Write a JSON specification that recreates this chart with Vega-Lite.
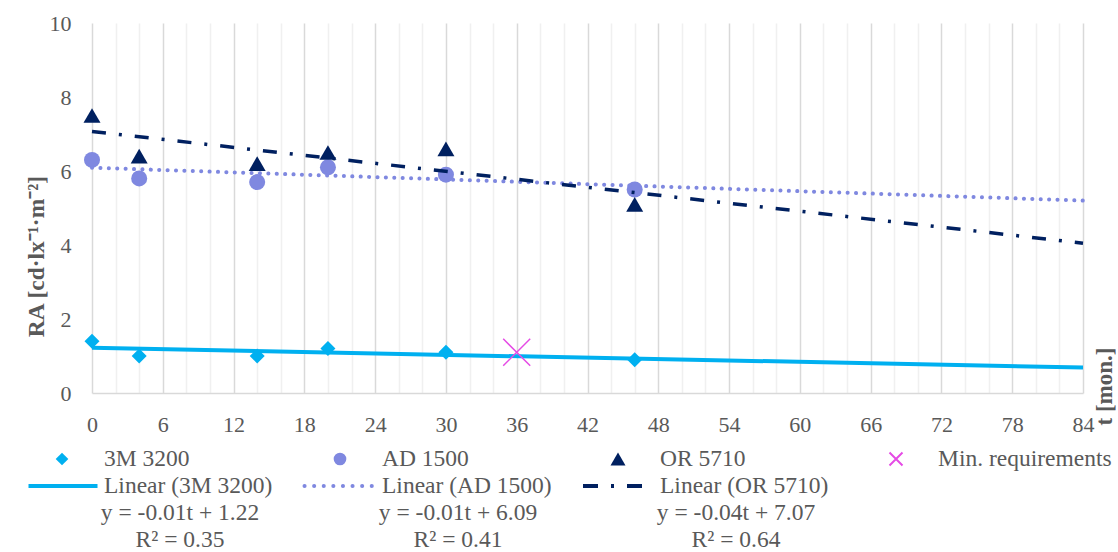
{
  "$schema": "https://vega.github.io/schema/vega-lite/v6.json",
  "background": "white",
  "padding": {"left": 20, "top": 12, "right": 0, "bottom": 0},
  "spacing": 12,
  "config": {
    "view": {"stroke": null},
    "font": "Liberation Serif"
  },
  "datasets": {
    "obs": [
      {"sample": "3M 3200", "t": 0, "RA": 1.4},
      {"sample": "3M 3200", "t": 4, "RA": 1.0},
      {"sample": "3M 3200", "t": 14, "RA": 1.0},
      {"sample": "3M 3200", "t": 20, "RA": 1.2},
      {"sample": "3M 3200", "t": 30, "RA": 1.1},
      {"sample": "3M 3200", "t": 46, "RA": 0.9},
      {"sample": "AD 1500", "t": 0, "RA": 6.3},
      {"sample": "AD 1500", "t": 4, "RA": 5.8},
      {"sample": "AD 1500", "t": 14, "RA": 5.7},
      {"sample": "AD 1500", "t": 20, "RA": 6.1},
      {"sample": "AD 1500", "t": 30, "RA": 5.9},
      {"sample": "AD 1500", "t": 46, "RA": 5.5},
      {"sample": "OR 5710", "t": 0, "RA": 7.5},
      {"sample": "OR 5710", "t": 4, "RA": 6.4},
      {"sample": "OR 5710", "t": 14, "RA": 6.2},
      {"sample": "OR 5710", "t": 20, "RA": 6.5},
      {"sample": "OR 5710", "t": 30, "RA": 6.6},
      {"sample": "OR 5710", "t": 46, "RA": 5.1}
    ],
    "minreq": [
      {"sample": "Min. requirements", "t": 36, "RA": 1.1}
    ],
    "trend": [
      {"series": "3M 3200", "t": 0, "RA": 1.22},
      {"series": "3M 3200", "t": 84, "RA": 0.69},
      {"series": "AD 1500", "t": 0, "RA": 6.09},
      {"series": "AD 1500", "t": 84, "RA": 5.2},
      {"series": "OR 5710", "t": 0, "RA": 7.07},
      {"series": "OR 5710", "t": 84, "RA": 4.05}
    ],
    "legend": [
      {"series": "3M 3200", "row": "marker", "label": "3M 3200"},
      {"series": "AD 1500", "row": "marker", "label": "AD 1500"},
      {"series": "OR 5710", "row": "marker", "label": "OR 5710"},
      {"series": "Min. requirements", "row": "marker", "label": "Min. requirements"},
      {"series": "3M 3200", "row": "trend", "label": "Linear (3M 3200)"},
      {"series": "AD 1500", "row": "trend", "label": "Linear (AD 1500)"},
      {"series": "OR 5710", "row": "trend", "label": "Linear (OR 5710)"},
      {"series": "3M 3200", "row": "eq", "label": "y = -0.01t + 1.22"},
      {"series": "AD 1500", "row": "eq", "label": "y = -0.01t + 6.09"},
      {"series": "OR 5710", "row": "eq", "label": "y = -0.04t + 7.07"},
      {"series": "3M 3200", "row": "r2", "label": "R² = 0.35"},
      {"series": "AD 1500", "row": "r2", "label": "R² = 0.41"},
      {"series": "OR 5710", "row": "r2", "label": "R² = 0.64"}
    ]
  },
  "vconcat": [
    {
      "width": 991,
      "height": 370,
      "encoding": {
        "x": {
          "field": "t",
          "type": "quantitative",
          "scale": {"domain": [0, 84], "nice": false, "zero": false},
          "axis": {
            "values": [0, 2, 4, 6, 8, 10, 12, 14, 16, 18, 20, 22, 24, 26, 28, 30, 32, 34, 36, 38, 40, 42, 44, 46, 48, 50, 52, 54, 56, 58, 60, 62, 64, 66, 68, 70, 72, 74, 76, 78, 80, 82, 84],
            "labelExpr": "datum.value % 6 === 0 ? datum.label : ''",
            "labelOverlap": false,
            "labelFlush": false,
            "labelFont": "Liberation Serif",
            "labelFontSize": 22,
            "labelColor": "#595959",
            "labelPadding": 21,
            "ticks": false,
            "tickSize": 0,
            "domainColor": "#D9D9D9",
            "domainWidth": 1.5,
            "grid": true,
            "gridWidth": 1.5,
            "gridColor": {"condition": {"test": "datum.value % 6 === 0", "value": "#D9D9D9"}, "value": "#F0F0F0"},
            "title": "t [mon.]",
            "titleFont": "Liberation Serif",
            "titleFontSize": 23,
            "titleFontWeight": "bold",
            "titleColor": "#595959",
            "titleAngle": 270,
            "titleX": 1012,
            "titleY": -7,
            "titleAlign": "center",
            "titleBaseline": "middle"
          }
        },
        "y": {
          "field": "RA",
          "type": "quantitative",
          "scale": {"domain": [0, 10], "nice": false},
          "axis": {
            "values": [0, 2, 4, 6, 8, 10],
            "grid": false,
            "domain": false,
            "ticks": false,
            "tickSize": 0,
            "labelPadding": 21,
            "labelFont": "Liberation Serif",
            "labelFontSize": 22,
            "labelColor": "#595959",
            "title": "RA [cd·lx⁻¹·m⁻²]",
            "titleFont": "Liberation Serif",
            "titleFontSize": 23.5,
            "titleFontWeight": "bold",
            "titleColor": "#595959",
            "titleAngle": 270,
            "titleX": -56,
            "titleY": 233,
            "titleAlign": "center",
            "titleBaseline": "middle"
          }
        }
      },
      "layer": [
        {
          "data": {"name": "obs"},
          "mark": {"type": "point", "filled": true, "opacity": 1},
          "encoding": {
            "shape": {"field": "sample", "type": "nominal", "scale": {"domain": ["3M 3200", "AD 1500", "OR 5710"], "range": ["diamond", "circle", "triangle-up"]}, "legend": null},
            "color": {"field": "sample", "type": "nominal", "scale": {"domain": ["3M 3200", "AD 1500", "OR 5710"], "range": ["#00B0F0", "#7F88E0", "#002060"]}, "legend": null},
            "size": {"field": "sample", "type": "nominal", "scale": {"domain": ["3M 3200", "AD 1500", "OR 5710"], "range": [225, 289, 290]}, "legend": null}
          }
        },
        {
          "data": {"name": "trend"},
          "transform": [{"filter": "datum.series === '3M 3200'"}],
          "mark": {"type": "line", "color": "#00B0F0", "strokeWidth": 4},
          "encoding": {}
        },
        {
          "data": {"name": "trend"},
          "transform": [{"filter": "datum.series === 'AD 1500'"}],
          "mark": {"type": "line", "color": "#7F88E0", "strokeWidth": 4, "strokeCap": "round", "strokeDash": [0.1, 8.3]},
          "encoding": {}
        },
        {
          "data": {"name": "trend"},
          "transform": [{"filter": "datum.series === 'OR 5710'"}],
          "mark": {"type": "line", "color": "#002060", "strokeWidth": 3.5, "strokeDash": [14, 13, 3, 13]},
          "encoding": {}
        },
        {
          "data": {"name": "minreq"},
          "mark": {"type": "point", "shape": "M-1,-1L1,1M1,-1L-1,1", "filled": false, "stroke": "#E54BE5", "strokeWidth": 1.5, "size": 729, "opacity": 1},
          "encoding": {}
        }
      ]
    },
    {
      "width": 834,
      "height": 81,
      "data": {"name": "legend"},
      "encoding": {
        "x": {"field": "series", "type": "nominal", "scale": {"type": "point", "domain": ["3M 3200", "AD 1500", "OR 5710", "Min. requirements"], "padding": 0}, "axis": null},
        "y": {"field": "row", "type": "nominal", "scale": {"type": "point", "domain": ["marker", "trend", "eq", "r2"], "padding": 0}, "axis": null}
      },
      "layer": [
        {
          "transform": [{"filter": "datum.row === 'marker' && datum.series === '3M 3200'"}],
          "mark": {"type": "point", "shape": "diamond", "filled": true, "opacity": 1, "color": "#00B0F0", "size": 160, "xOffset": -30}
        },
        {
          "transform": [{"filter": "datum.row === 'marker' && datum.series === 'AD 1500'"}],
          "mark": {"type": "point", "shape": "circle", "filled": true, "opacity": 1, "color": "#7F88E0", "size": 160, "xOffset": -30}
        },
        {
          "transform": [{"filter": "datum.row === 'marker' && datum.series === 'OR 5710'"}],
          "mark": {"type": "point", "shape": "triangle-up", "filled": true, "opacity": 1, "color": "#002060", "size": 225, "xOffset": -30}
        },
        {
          "transform": [{"filter": "datum.row === 'marker' && datum.series === 'Min. requirements'"}],
          "mark": {"type": "point", "shape": "M-1,-1L1,1M1,-1L-1,1", "filled": false, "opacity": 1, "stroke": "#E54BE5", "strokeWidth": 2, "size": 169, "xOffset": -30}
        },
        {
          "transform": [{"filter": "datum.row === 'trend' && datum.series === '3M 3200'"}],
          "mark": {"type": "point", "shape": "stroke", "filled": false, "opacity": 1, "stroke": "#00B0F0", "strokeWidth": 4, "size": 4761, "xOffset": -29}
        },
        {
          "transform": [{"filter": "datum.row === 'trend' && datum.series === 'AD 1500'"}],
          "mark": {"type": "point", "shape": "stroke", "filled": false, "opacity": 1, "stroke": "#7F88E0", "strokeWidth": 4, "strokeCap": "round", "strokeDash": [0.1, 9.5], "size": 4761, "xOffset": -31}
        },
        {
          "transform": [{"filter": "datum.row === 'trend' && datum.series === 'OR 5710'"}],
          "mark": {"type": "point", "shape": "stroke", "filled": false, "opacity": 1, "stroke": "#002060", "strokeWidth": 4, "strokeDash": [15, 13, 3, 13], "size": 3600, "xOffset": -35}
        },
        {
          "transform": [{"filter": "datum.row === 'marker' || datum.row === 'trend'"}],
          "mark": {"type": "text", "align": "left", "baseline": "middle", "dx": 12, "font": "Liberation Serif", "fontSize": 23.5, "color": "#595959"},
          "encoding": {"text": {"field": "label"}}
        },
        {
          "transform": [{"filter": "datum.row === 'eq' || datum.row === 'r2'"}],
          "mark": {"type": "text", "align": "center", "baseline": "middle", "dx": 88, "font": "Liberation Serif", "fontSize": 23.5, "color": "#595959"},
          "encoding": {"text": {"field": "label"}}
        }
      ]
    }
  ]
}
